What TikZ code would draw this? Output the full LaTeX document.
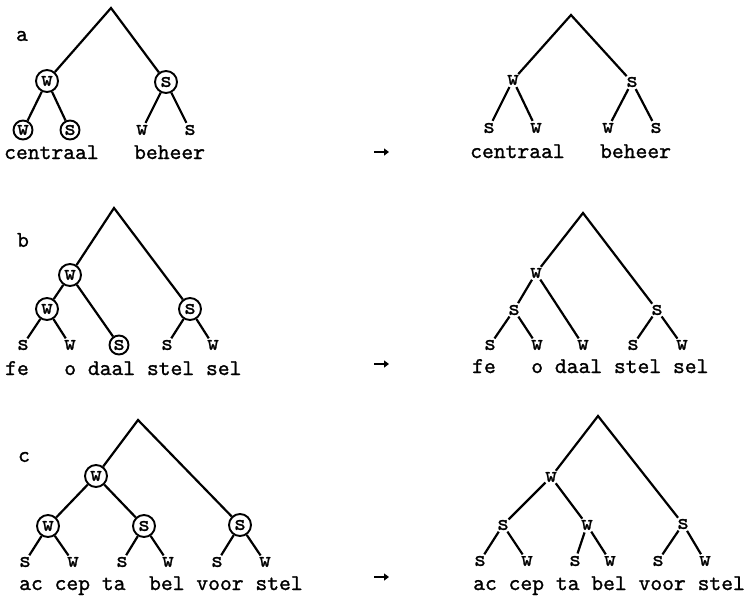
\documentclass[tikz,border=0pt]{standalone}
\usepackage{fontspec}
\usetikzlibrary{arrows.meta}
\newfontfamily\typer{lmmono10-regular.otf}[FakeBold=1.1]
\begin{document}
\begin{tikzpicture}[x=1pt,y=-1pt,
  font=\typer\fontsize{22.5}{27}\selectfont,
  ring/.style={circle,draw,line width=1.9pt,inner sep=0pt,minimum size=22pt},
  leafring/.style={ring,minimum size=19pt},
  bare/.style={circle,inner sep=0pt,minimum size=15pt},
  branch/.style={line width=2.2pt},
  words/.style={anchor=base west,inner sep=0pt},
  tag/.style={inner sep=0pt},
  becomes/.style={-{Triangle[length=5pt,width=7pt]},line width=2.2pt}]
\fill[white] (0,0) rectangle (749,595);
\useasboundingbox (0,0) rectangle (749,595);

% ---------- a: centraal beheer ----------
\node[tag] (la) at (22,36) {a};
\coordinate (aLtop) at (111,8);
\node[ring] (aLw) at (47,81) {w};
\node[ring] (aLs) at (166,82) {s};
\node[leafring] (aLww) at (23,130) {w};
\node[leafring] (aLws) at (70,130) {s};
\node[bare] (aLsw) at (142,130) {w};
\node[bare] (aLss) at (190,130) {s};
\draw[branch] (aLw) -- (aLtop) -- (aLs);
\draw[branch] (aLww) -- (aLw) -- (aLws);
\draw[branch] (aLsw) -- (aLs) -- (aLss);
\node[words] (aLtxt) at (4,159) {centraal\ \ \ beheer};

\coordinate (ar1s) at (374,152);
\coordinate (ar1e) at (389,152);
\draw[becomes] (ar1s) -- (ar1e);

\coordinate (aRtop) at (571,15);
\node[bare] (aRw) at (513,80) {w};
\node[bare] (aRs) at (632,82) {s};
\node[bare] (aRws) at (489,128) {s};
\node[bare] (aRww) at (536,128) {w};
\node[bare] (aRsw) at (608,128) {w};
\node[bare] (aRss) at (656,128) {s};
\draw[branch] (aRw) -- (aRtop) -- (aRs);
\draw[branch] (aRws) -- (aRw) -- (aRww);
\draw[branch] (aRsw) -- (aRs) -- (aRss);
\node[words] (aRtxt) at (470,158) {centraal\ \ \ beheer};

% ---------- b: fe o daal stel sel ----------
\node[tag] (lb) at (23,240) {b};
\coordinate (bLtop) at (114,208);
\node[ring] (bLw) at (70,275) {w};
\node[ring] (bLs) at (190,309) {s};
\node[ring] (bLww) at (47,309) {w};
\node[bare] (bL1) at (23,345) {s};
\node[bare] (bL2) at (70,345) {w};
\node[leafring] (bL3) at (119,345) {s};
\node[bare] (bL4) at (167,345) {s};
\node[bare] (bL5) at (213,345) {w};
\draw[branch] (bLw) -- (bLtop) -- (bLs);
\draw[branch] (bLww) -- (bLw) -- (bL3);
\draw[branch] (bL1) -- (bLww) -- (bL2);
\draw[branch] (bL4) -- (bLs) -- (bL5);
\node[words] (bLtxt) at (5,375) {fe\ \ \ o daal stel sel};

\coordinate (ar2s) at (374,364);
\coordinate (ar2e) at (389,364);
\draw[becomes] (ar2s) -- (ar2e);

\coordinate (bRtop) at (583,213);
\node[bare] (bRw) at (536,273) {w};
\node[bare] (bRws) at (514,310) {s};
\node[bare] (bRs) at (657,310) {s};
\node[bare] (bR1) at (490,345) {s};
\node[bare] (bR2) at (537,345) {w};
\node[bare] (bR3) at (583,345) {w};
\node[bare] (bR4) at (633,345) {s};
\node[bare] (bR5) at (682,345) {w};
\draw[branch] (bRw) -- (bRtop) -- (bRs);
\draw[branch] (bRws) -- (bRw) -- (bR3);
\draw[branch] (bR1) -- (bRws) -- (bR2);
\draw[branch] (bR4) -- (bRs) -- (bR5);
\node[words] (bRtxt) at (472,373) {fe\ \ \ o daal stel sel};

% ---------- c: ac cep ta bel voor stel ----------
\node[tag] (lc) at (24,457) {c};
\coordinate (cLtop) at (138,420);
\node[ring] (cLw) at (96,476) {w};
\node[ring] (cLww) at (48,526) {w};
\node[ring] (cLws) at (144,526) {s};
\node[ring] (cLs) at (240,525) {s};
\node[bare] (cL1) at (25,562) {s};
\node[bare] (cL2) at (73,562) {w};
\node[bare] (cL3) at (122,562) {s};
\node[bare] (cL4) at (168,562) {w};
\node[bare] (cL5) at (217,562) {s};
\node[bare] (cL6) at (265,562) {w};
\draw[branch] (cLw) -- (cLtop) -- (cLs);
\draw[branch] (cLww) -- (cLw) -- (cLws);
\draw[branch] (cL1) -- (cLww) -- (cL2);
\draw[branch] (cL3) -- (cLws) -- (cL4);
\draw[branch] (cL5) -- (cLs) -- (cL6);
\node[words] (cLtxt) at (19,590) {ac cep ta\ \ bel voor stel};

\coordinate (ar3s) at (374,577);
\coordinate (ar3e) at (389,577);
\draw[becomes] (ar3s) -- (ar3e);

\coordinate (cRtop) at (598,416);
\node[bare] (cRw) at (551,477) {w};
\node[bare] (cRws) at (503,525) {s};
\node[bare] (cRww) at (587,525) {w};
\node[bare] (cRs) at (683,524) {s};
\node[bare] (cR1) at (480,561) {s};
\node[bare] (cR2) at (527,561) {w};
\node[bare] (cR3) at (575,561) {s};
\node[bare] (cR4) at (610,561) {w};
\node[bare] (cR5) at (658,561) {s};
\node[bare] (cR6) at (705,561) {w};
\draw[branch] (cRw) -- (cRtop) -- (cRs);
\draw[branch] (cRws) -- (cRw) -- (cRww);
\draw[branch] (cR1) -- (cRws) -- (cR2);
\draw[branch] (cR3) -- (cRww) -- (cR4);
\draw[branch] (cR5) -- (cRs) -- (cR6);
\node[words] (cRtxt) at (473,590) {ac cep ta bel voor stel};
\end{tikzpicture}
\end{document}
